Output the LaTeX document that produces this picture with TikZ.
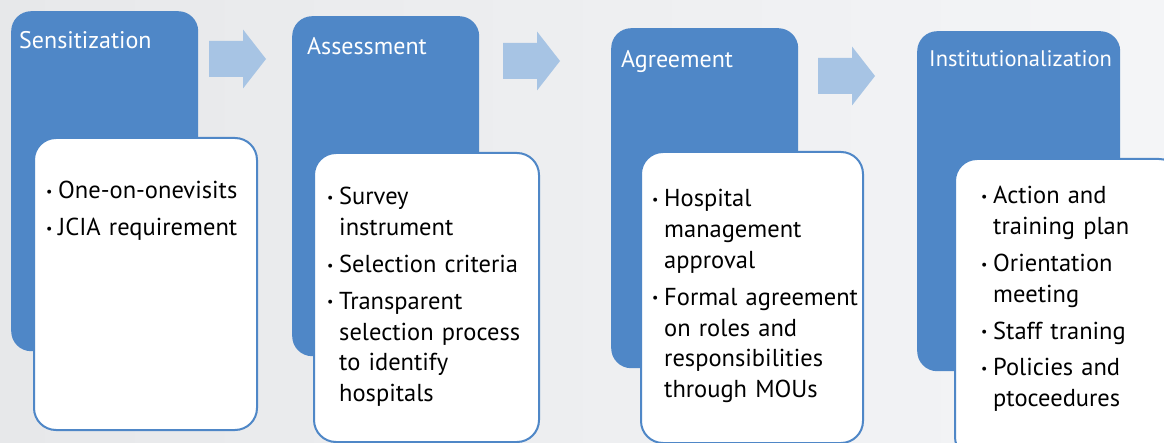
\documentclass[tikz,border=0pt]{standalone}
\usepackage{fontspec}
\setmainfont{PT Sans}
\usetikzlibrary{positioning}

\definecolor{stageblue}{HTML}{4F87C7}
\definecolor{arrowblue}{HTML}{A7C4E4}
\definecolor{bgleft}{HTML}{E7E8EA}
\definecolor{bgright}{HTML}{F4F5F7}

\newlength{\bulletw}
\setlength{\bulletw}{12pt}
\newcommand{\bulletmark}{{\fontsize{14}{14}\selectfont\raisebox{2.5pt}{\textbullet}}}
\newcommand{\litem}[1]{\hangindent=\bulletw\hangafter=1\noindent\makebox[\bulletw][l]{\bulletmark}#1\par}
\newcommand{\itemgap}{\vspace{6pt}}

\tikzset{
    stagebox/.style={fill=stageblue, rounded corners=20pt, anchor=north west, inner sep=0pt},
    stagetitle/.style={text=white, font=\fontsize{24}{28}\selectfont, anchor=base west, inner sep=0pt},
    listbox/.style={fill=white, draw=stageblue, line width=2pt, rounded corners=22pt, anchor=north west, inner sep=0pt},
    listtext/.style={font=\fontsize{24.5}{30.8}\selectfont\raggedright, anchor=base west, inner sep=0pt, text width=#1},
}

\begin{document}
\begin{tikzpicture}[x=1pt, y=-1pt]
        % Background
        \useasboundingbox (0,0) rectangle (1164,443);
        \shade[left color=bgleft, right color=bgright] (0,0) rectangle (1164,443);

        % Blue stage boxes with their titles
        \foreach \i/\bx/\by/\bw/\tx/\ty/\ts/\ttl in {1/11/11/187/19/49/24/Sensitization,
                2/292/16/187/307/55/24/Assessment, 3/611/28/187/621/68/24/Agreement,
                4/917/31/203/929/67/22.5/Institutionalization} {
            \node[stagebox, minimum width=\bw pt, minimum height=340pt] (stage\i) at (\bx,\by) {};
            \node[stagetitle, font=\fontsize{\ts}{28}\selectfont] (title\i) at (\tx,\ty) {\ttl};
        }

        % Block arrows between stages
        \foreach \ax/\ay in {209/59, 503/61, 818/76} {
            \fill[arrowblue] (\ax,\ay-18) -- (\ax+34,\ay-18) -- (\ax+34,\ay-29.5)
                -- (\ax+57,\ay) -- (\ax+34,\ay+29.5) -- (\ax+34,\ay+18) -- (\ax,\ay+18) -- cycle;
        }

        % White list boxes
        \foreach \i/\lx/\ly/\lw/\lh in {1/33/137/223/292, 2/313/152/225/289,
                3/640/151/222/291, 4/954/158/226/300} {
            \node[listbox, minimum width=\lw pt, minimum height=\lh pt] (list\i) at (\lx,\ly) {};
        }

        % List texts
        \node[listtext=215pt] (items1) at (46,199) {%
            \litem{One-on-onevisits}\itemgap
            \litem{JCIA requirement}};
        \node[listtext=215pt] (items2) at (327,205) {%
            \litem{Survey\newline instrument}\itemgap
            \litem{Selection criteria}\itemgap
            \litem{Transparent\newline selection process\newline to identify\newline hospitals}};
        \node[listtext=215pt] (items3) at (652,207) {%
            \litem{Hospital\newline management\newline approval}\itemgap
            \litem{Formal agreement\newline on roles and\newline responsibilities\newline through MOUs}};
        \node[listtext=200pt] (items4) at (981,204) {%
            \litem{Action and\newline training plan}\itemgap
            \litem{Orientation\newline meeting}\itemgap
            \litem{Staff traning}\itemgap
            \litem{Policies and\newline ptoceedures}};
    \end{tikzpicture}
\end{document}
